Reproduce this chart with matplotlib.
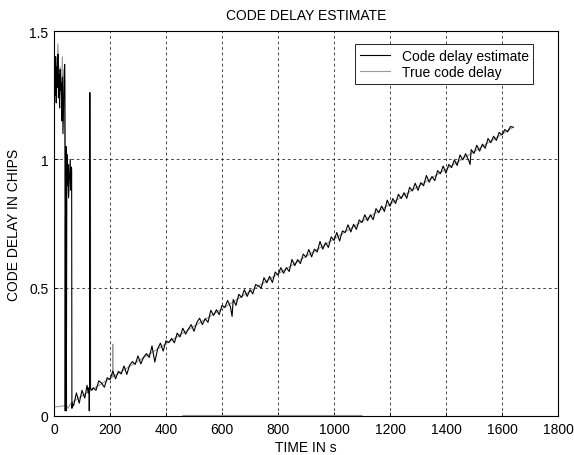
import numpy as np
import matplotlib
matplotlib.use("Agg")
import matplotlib.pyplot as plt

plt.rcParams['font.family'] = ['Liberation Sans', 'DejaVu Sans']

# ---- data: code delay estimate (black) ----
est_t = [0, 2, 4, 6, 8, 10, 12, 14, 16, 18, 20, 22, 24, 26, 28, 30, 32, 35, 38,
         39, 40, 41, 43, 44, 46, 48, 50, 52, 55, 58, 60, 62, 63, 64, 66, 68,
         70, 80, 90, 100, 110, 118, 122, 125, 126, 127, 128, 129.5, 135,
         140, 150, 160, 170, 180, 190, 200, 210, 220, 230, 240, 250, 260, 270, 280, 290, 300,
         310, 320, 330, 340, 350, 360, 370, 380, 390, 400, 410, 420, 430, 440, 450,
         460, 470, 480, 490, 500, 510, 520, 530, 540, 550, 560, 570, 580, 590, 600,
         610, 620, 630, 636, 640, 650, 660, 670, 680, 690, 700, 710, 720, 730, 740,
         750, 760, 770, 780, 790, 800, 810, 820, 830, 840, 850, 860, 870, 880, 890,
         900, 910, 920, 930, 940, 950, 960, 970, 980, 990, 1000, 1010, 1020, 1030,
         1040, 1050, 1060, 1070, 1080, 1090, 1100, 1110, 1120, 1130, 1140, 1150,
         1160, 1170, 1180, 1190, 1200, 1210, 1220, 1230, 1240, 1250, 1260, 1270,
         1280, 1290, 1300, 1310, 1320, 1330, 1340, 1350, 1360, 1370, 1380, 1390,
         1400, 1410, 1420, 1430, 1440, 1450, 1460, 1470, 1480, 1486, 1490, 1500, 1510,
         1520, 1530, 1540, 1550, 1560, 1570, 1580, 1590, 1600, 1610, 1620, 1630, 1640]
est_v = [1.30, 1.38, 1.25, 1.40, 1.22, 1.36, 1.28, 1.41, 1.24, 1.33, 1.20, 1.35, 1.27, 1.30, 1.15, 1.32, 1.10, 1.25, 1.37,
         1.30, 0.02, 0.75, 1.05, 0.02, 1.02, 0.90, 0.98, 0.85, 0.93, 1.00, 0.88, 0.97, 0.96, 0.03, 0.05, 0.04,
         0.04, 0.09, 0.05, 0.10, 0.07, 0.12, 0.09, 0.11, 0.02, 0.12, 1.26, 0.11, 0.10,
         0.110, 0.100, 0.137, 0.128, 0.112, 0.149, 0.142, 0.175, 0.145, 0.174, 0.164, 0.195, 0.162, 0.198, 0.212, 0.201, 0.234,
         0.203, 0.229, 0.243, 0.228, 0.273, 0.210, 0.261, 0.284, 0.253, 0.293, 0.286, 0.302, 0.285, 0.323, 0.308,
         0.342, 0.319, 0.339, 0.356, 0.330, 0.364, 0.381, 0.356, 0.379, 0.365, 0.412, 0.392, 0.414, 0.395, 0.431,
         0.423, 0.450, 0.426, 0.388, 0.454, 0.431, 0.474, 0.462, 0.492, 0.466, 0.492, 0.476, 0.512, 0.507, 0.498,
         0.539, 0.519, 0.544, 0.520, 0.561, 0.549, 0.578, 0.556, 0.578, 0.563, 0.610, 0.586, 0.609, 0.594, 0.631,
         0.619, 0.649, 0.620, 0.650, 0.639, 0.680, 0.650, 0.675, 0.657, 0.698, 0.684, 0.715, 0.682, 0.721,
         0.715, 0.745, 0.717, 0.747, 0.727, 0.764, 0.754, 0.784, 0.761, 0.784, 0.765, 0.808,
         0.792, 0.818, 0.797, 0.841, 0.817, 0.847, 0.828, 0.864, 0.847, 0.870, 0.848, 0.891,
         0.877, 0.907, 0.879, 0.909, 0.897, 0.937, 0.911, 0.933, 0.917, 0.956, 0.944, 0.974,
         0.946, 0.980, 0.968, 0.998, 0.976, 1.017, 0.998, 1.022, 0.999, 0.980, 1.038, 1.023, 1.055,
         1.032, 1.059, 1.043, 1.081, 1.065, 1.090, 1.074, 1.105, 1.095, 1.116, 1.107, 1.128, 1.125]

# ---- data: true code delay (gray); NaN separates drawn pieces ----
true_t = [0, 1, 3, 6, 10, 14, 18, 22, 26, 30, 33, 36, 40, 45, 50, 55,
          60, 129, 130, 131, 200, 209, 210, 211, 1640,
          np.nan, 0, 40,
          np.nan, 460, 1100]
true_v = [1.48, 1.42, 1.30, 1.38, 1.33, 1.45, 1.28, 1.36, 1.25, 1.40, 1.15, 1.35, 1.05, 0.04, 0.03, 0.04,
          0.05, 0.098, 1.00, 0.10, 0.146, 0.152, 0.28, 0.153, 1.125,
          np.nan, 0.035, 0.04,
          np.nan, 0.002, 0.002]

x_ticks = [0, 200, 400, 600, 800, 1000, 1200, 1400, 1600, 1800]
y_ticks = [0, 0.5, 1, 1.5]
y_ticklabels = ['0', '0.5', '1', '1.5']

fig = plt.figure(figsize=(5.74, 4.56), dpi=100)
ax = fig.add_axes([54/574, 39/456, 504/574, 385/456])

ax.plot(true_t, true_v, color='#9a9a9a', lw=0.8, zorder=2, label='True code delay')
ax.plot(est_t, est_v, color='black', lw=0.8, zorder=3, label='Code delay estimate')

ax.set_xlim(0, 1800)
ax.set_ylim(0, 1.5)
ax.set_xticks(x_ticks)
ax.set_yticks(y_ticks)
ax.set_yticklabels(y_ticklabels)
ax.tick_params(direction='in', length=3, width=0.6, labelsize=10, pad=4)
ax.grid(True, color='black', linestyle=(0, (4, 4)), linewidth=0.5)
for s in ax.spines.values():
    s.set_linewidth(0.8)

ax.set_title('CODE DELAY ESTIMATE', fontsize=10, pad=9)
ax.set_xlabel('TIME IN s', fontsize=10, labelpad=3)
ax.set_ylabel('CODE DELAY IN CHIPS', fontsize=10, labelpad=6)

h, l = ax.get_legend_handles_labels()
leg = ax.legend([h[1], h[0]], [l[1], l[0]], loc='upper right', fontsize=10,
                frameon=True, fancybox=False, edgecolor='black', framealpha=1,
                handlelength=2.2, borderpad=0.35, labelspacing=0.15,
                bbox_to_anchor=(0.965, 0.985))
leg.get_frame().set_linewidth(0.6)

fig.savefig('out.png', dpi=100)
